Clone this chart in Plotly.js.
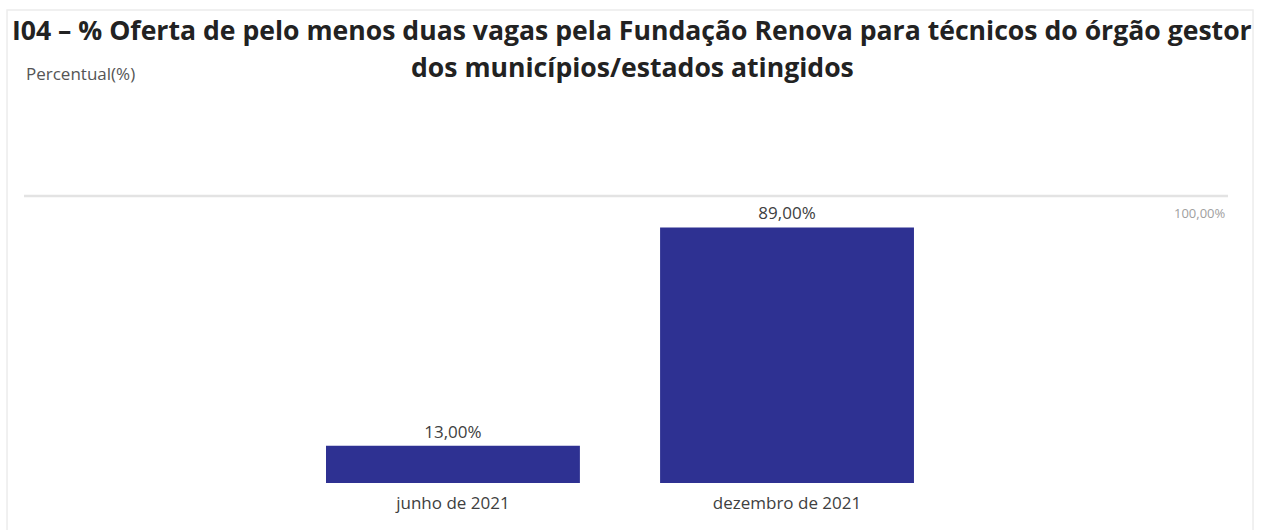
<!DOCTYPE html>
<html>
<head>
<meta charset="utf-8">
<script src="https://cdn.plot.ly/plotly-3.0.1.min.js"></script>
<style>html,body{margin:0;padding:0;background:#fff;}#chart{width:1266px;height:530px;}</style>
</head>
<body>
<div id="chart"></div>
<script>
const categories = ["junho de 2021", "dezembro de 2021"];
const values = [13, 89];
const valueLabels = ["13,00%", "89,00%"];
const targetValue = 100;
const targetLabel = "100,00%";
const titleLines = ["I04 – % Oferta de pelo menos duas vagas pela Fundação Renova para técnicos do órgão gestor",
                    "dos municípios/estados atingidos"];
const yAxisLabel = "Percentual(%)";

const trace = {
  type: "bar",
  x: categories,
  y: values,
  text: valueLabels,
  textposition: "outside",
  cliponaxis: false,
  textfont: {family: "Open Sans, sans-serif", size: 17, color: "#404040"},
  marker: {color: "#2e3192"},
  hoverinfo: "none"
};

const titleFont = {family: "Open Sans, sans-serif", size: 26.6, color: "#222", weight: "bold"};

const layout = {
  width: 1266, height: 530,
  margin: {l: 24, r: 38, t: 100, b: 47},
  paper_bgcolor: "#fff", plot_bgcolor: "#fff",
  showlegend: false,
  bargap: 0.24,
  xaxis: {
    type: "category",
    range: [-1.284, 2.32],
    showgrid: false, zeroline: false, showline: false,
    ticks: "", ticklen: 0, ticklabelstandoff: 8,
    tickfont: {family: "Open Sans, sans-serif", size: 17, color: "#404040"}
  },
  yaxis: {
    range: [0, 133.4],
    visible: false, showgrid: false, zeroline: false
  },
  shapes: [
    {type: "line", xref: "paper", yref: "y", x0: 0, x1: 1, y0: targetValue, y1: targetValue,
     line: {color: "#e3e3e3", width: 2.5}, layer: "below"},
    {type: "rect", xref: "paper", yref: "paper", x0: -0.0141, x1: 1.0208, y0: -0.2, y1: 1.235,
     line: {color: "#ececec", width: 1.5}, fillcolor: "rgba(0,0,0,0)", layer: "below"}
  ],
  annotations: [
    {xref: "paper", yref: "paper", x: 0.505, y: (483 - 30) / 383, xanchor: "center", yanchor: "middle",
     text: titleLines[0], showarrow: false, font: titleFont},
    {xref: "paper", yref: "paper", x: 0.505, y: (483 - 67) / 383, xanchor: "center", yanchor: "middle",
     text: titleLines[1], showarrow: false, font: titleFont},
    {xref: "paper", yref: "y", x: 1, y: targetValue, xanchor: "right", yanchor: "top", yshift: -6,
     text: targetLabel, showarrow: false, font: {family: "Open Sans, sans-serif", size: 13, color: "#a0a0a0"}},
    {xref: "paper", yref: "paper", x: 0, y: (483 - 73) / 383, xanchor: "left", yanchor: "middle",
     text: yAxisLabel, showarrow: false, font: {family: "Open Sans, sans-serif", size: 17, color: "#555"}}
  ]
};

Plotly.newPlot("chart", [trace], layout, {displayModeBar: false, staticPlot: true});
</script>
</body>
</html>
